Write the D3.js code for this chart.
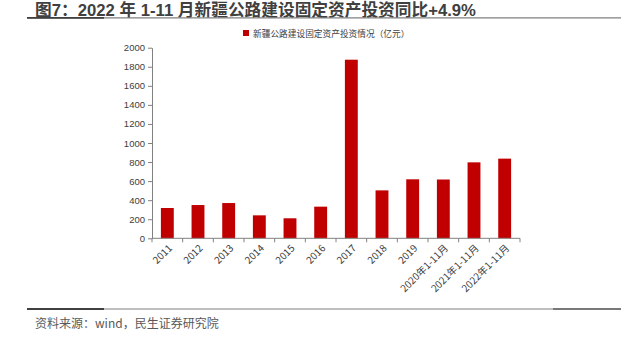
<!DOCTYPE html>
<html><head><meta charset="utf-8">
<script src="https://cdn.jsdelivr.net/npm/d3@7"></script>
<style>
html,body{margin:0;padding:0;background:#fff;}
svg{display:block;font-family:"Noto Sans CJK SC","Liberation Sans",sans-serif;}
</style></head>
<body>
<svg id="c" width="631" height="343"></svg>
<script>
const categories = ["2011","2012","2013","2014","2015","2016","2017","2018","2019","2020年1-11月","2021年1-11月","2022年1-11月"];
const values = [318, 349, 370, 241, 210, 332, 1874, 503, 619, 617, 797, 836];
const yTicks = [0,200,400,600,800,1000,1200,1400,1600,1800,2000];
const titleText = "图7：2022 年 1-11 月新疆公路建设固定资产投资同比+4.9%";
const legendText = "新疆公路建设固定资产投资情况（亿元）";
const sourceText = "资料来源：wind，民生证券研究院";

(function(){
const svg = d3.select("#c");
const pL = 152, pR = 520, pT = 47.7, pB = 238.3;

// title
svg.append("text").attr("x",35).attr("y",15.6)
  .attr("font-family","'Liberation Sans','Noto Sans CJK SC',sans-serif")
  .attr("font-size",16.7).attr("font-weight","bold").attr("fill","#404040")
  .text(titleText);
svg.append("line").attr("x1",27).attr("x2",621).attr("y1",17.8).attr("y2",17.8)
  .attr("stroke","#808080").attr("stroke-width",1.2);
svg.append("line").attr("x1",27).attr("x2",104).attr("y1",17.8).attr("y2",17.8)
  .attr("stroke","#404040").attr("stroke-width",1.8);

// legend
svg.append("rect").attr("x",243).attr("y",30).attr("width",6).attr("height",6).attr("fill","#C00000");
svg.append("text").attr("x",253).attr("y",36.5).attr("font-size",8.7).attr("fill","#404040").text(legendText);

const x = d3.scaleBand().domain(categories).range([pL,pR]).padding(0);
const y = d3.scaleLinear().domain([0,2000]).range([pB,pT]);
const bw = x.bandwidth()*0.42;

// bars
svg.append("g").selectAll("rect").data(values).join("rect")
  .attr("x",(d,i)=>x(categories[i])+x.bandwidth()/2-bw/2)
  .attr("width",bw)
  .attr("y",d=>y(d))
  .attr("height",d=>y(0)-y(d))
  .attr("fill","#C00000");

// y axis
const ya = svg.append("g").attr("transform",`translate(${pL},0)`)
  .call(d3.axisLeft(y).tickValues(yTicks).tickFormat(d3.format("d")).tickSize(4).tickSizeOuter(0).tickPadding(3));
ya.selectAll("path,line").attr("stroke","#808080");
ya.selectAll("text").attr("font-size",9.5).attr("fill","#404040").attr("font-family","'Liberation Sans',Arial,sans-serif");

// x axis
const xg = svg.append("g");
xg.append("line").attr("x1",pL).attr("x2",pR).attr("y1",pB).attr("y2",pB).attr("stroke","#808080");
const bounds = categories.map(c=>x(c)).concat([pR]);
xg.selectAll("line.t").data(bounds).join("line").attr("class","t")
  .attr("x1",d=>d).attr("x2",d=>d).attr("y1",pB).attr("y2",pB+4).attr("stroke","#808080");
xg.selectAll("text").data(categories).join("text")
  .attr("transform",d=>`translate(${x(d)+x.bandwidth()/2+3},${pB+8}) rotate(-45)`)
  .attr("text-anchor","end").attr("font-size",10).attr("fill","#404040")
  .attr("dy","0.35em")
  .text(d=>d);

// source
svg.append("line").attr("x1",27).attr("x2",621).attr("y1",309).attr("y2",309)
  .attr("stroke","#808080").attr("stroke-width",1.2);
svg.append("line").attr("x1",27).attr("x2",104).attr("y1",309).attr("y2",309)
  .attr("stroke","#404040").attr("stroke-width",1.8);
svg.append("line").attr("x1",553).attr("x2",621).attr("y1",309).attr("y2",309)
  .attr("stroke","#606060").attr("stroke-width",1.6);
svg.append("text").attr("x",35).attr("y",328).attr("font-size",12).attr("fill","#595959").text(sourceText);
})();
</script>
</body></html>
